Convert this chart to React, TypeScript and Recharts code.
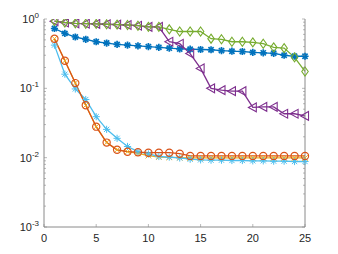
import React from "react";
import { LineChart, Line, XAxis, YAxis } from "recharts";

const iterations = [1, 2, 3, 4, 5, 6, 7, 8, 9, 10, 11, 12, 13, 14, 15, 16, 17, 18, 19, 20, 21, 22, 23, 24, 25];

const blueErr = [0.73, 0.62, 0.55, 0.51, 0.47, 0.45, 0.43, 0.42, 0.41, 0.4, 0.39, 0.38, 0.37, 0.367, 0.363, 0.36, 0.35, 0.343, 0.34, 0.33, 0.325, 0.32, 0.3, 0.29, 0.29];
const orangeErr = [0.52, 0.25, 0.119, 0.057, 0.028, 0.0165, 0.013, 0.0122, 0.012, 0.0118, 0.0118, 0.0118, 0.0114, 0.0106, 0.0106, 0.0106, 0.0106, 0.0106, 0.0106, 0.0106, 0.0106, 0.0106, 0.0106, 0.0106, 0.0106];
const yellowErr = [0.52, 0.25, 0.119, 0.057, 0.028, 0.0165, 0.013, 0.0122, 0.0115, 0.0107, 0.0102, 0.0101, 0.01, 0.0099, 0.0099, 0.0099, 0.0099, 0.0099, 0.0099, 0.0099, 0.0099, 0.0099, 0.0099, 0.0099, 0.0099];
const purpleErr = [0.93, 0.89, 0.865, 0.855, 0.85, 0.84, 0.83, 0.82, 0.8, 0.77, 0.77, 0.47, 0.44, 0.317, 0.194, 0.1, 0.094, 0.091, 0.091, 0.053, 0.054, 0.054, 0.043, 0.043, 0.04];
const greenErr = [0.935, 0.89, 0.865, 0.855, 0.85, 0.84, 0.83, 0.82, 0.8, 0.77, 0.77, 0.71, 0.66, 0.66, 0.66, 0.52, 0.51, 0.47, 0.47, 0.46, 0.44, 0.39, 0.38, 0.28, 0.175];
const cyanErr = [0.42, 0.16, 0.098, 0.069, 0.039, 0.0256, 0.019, 0.0145, 0.0122, 0.0113, 0.0104, 0.0102, 0.0099, 0.0095, 0.0093, 0.0092, 0.0092, 0.0091, 0.0091, 0.009, 0.009, 0.0089, 0.0089, 0.0088, 0.0088];

const xTicks = [0, 5, 10, 15, 20, 25];
const yMajor = [0.001, 0.01, 0.1, 1];
const yTicks = [
  0.001, 0.002, 0.003, 0.004, 0.005, 0.006, 0.007, 0.008, 0.009,
  0.01, 0.02, 0.03, 0.04, 0.05, 0.06, 0.07, 0.08, 0.09,
  0.1, 0.2, 0.3, 0.4, 0.5, 0.6, 0.7, 0.8, 0.9, 1,
];

const data = iterations.map((it, i) => ({
  it,
  blue: blueErr[i],
  orange: orangeErr[i],
  yellow: yellowErr[i],
  purple: purpleErr[i],
  green: greenErr[i],
  cyan: cyanErr[i],
}));

const TOP = 19;
const BOTTOM = 227;
const LEFT = 44;
const RIGHT = 305;
const AXIS = "#8a8a8a";
const TEXT = "#262626";
const FONT = "'Liberation Sans', Arial, sans-serif";

const isMajor = (v: number) => yMajor.some((m) => Math.abs(m - v) < 1e-9);

function LeftTick(props: any) {
  const { y, payload } = props;
  const v = payload.value;
  const major = isMajor(v);
  return (
    <g>
      <line x1={LEFT} x2={LEFT + (major ? 3 : 2)} y1={y} y2={y} stroke={AXIS} strokeWidth={0.6} />
      {major && (
        <text x={LEFT - 5} y={y + 4} textAnchor="end" fill={TEXT} fontSize={11} fontFamily={FONT}>
          <tspan>10</tspan>
          <tspan dy={-5} fontSize={8}>{String(Math.round(Math.log10(v)))}</tspan>
        </text>
      )}
    </g>
  );
}

function RightTick(props: any) {
  const { y, payload } = props;
  const major = isMajor(payload.value);
  return <line x1={RIGHT} x2={RIGHT - (major ? 3 : 2)} y1={y} y2={y} stroke={AXIS} strokeWidth={0.6} />;
}

function BottomTick(props: any) {
  const { x, payload } = props;
  return (
    <g>
      <line x1={x} x2={x} y1={BOTTOM} y2={BOTTOM - 3} stroke={AXIS} strokeWidth={0.6} />
      <text x={x} y={BOTTOM + 15} textAnchor="middle" fill={TEXT} fontSize={11} fontFamily={FONT}>
        {payload.value}
      </text>
    </g>
  );
}

function TopTick(props: any) {
  const { x } = props;
  return <line x1={x} x2={x} y1={TOP} y2={TOP + 3} stroke={AXIS} strokeWidth={0.6} />;
}

const star = (color: string, w: number) => (p: any) => {
  const { cx, cy, index } = p;
  const r = 3.6;
  const d = r * 0.72;
  return (
    <g key={`s${index}`} stroke={color} strokeWidth={w}>
      <line x1={cx - r} x2={cx + r} y1={cy} y2={cy} />
      <line x1={cx} x2={cx} y1={cy - r} y2={cy + r} />
      <line x1={cx - d} x2={cx + d} y1={cy - d} y2={cy + d} />
      <line x1={cx - d} x2={cx + d} y1={cy + d} y2={cy - d} />
    </g>
  );
};

const cross = (color: string) => (p: any) => {
  const { cx, cy, index } = p;
  const r = 2.8;
  return (
    <g key={`x${index}`} stroke={color} strokeWidth={1}>
      <line x1={cx - r} x2={cx + r} y1={cy - r} y2={cy + r} />
      <line x1={cx - r} x2={cx + r} y1={cy + r} y2={cy - r} />
    </g>
  );
};

const circle = (color: string) => (p: any) => (
  <circle key={`c${p.index}`} cx={p.cx} cy={p.cy} r={3.6} fill="none" stroke={color} strokeWidth={1.2} />
);

const diamond = (color: string) => (p: any) => {
  const { cx, cy, index } = p;
  const r = 4.5;
  return (
    <polygon
      key={`d${index}`}
      points={`${cx},${cy - r} ${cx + r * 0.72},${cy} ${cx},${cy + r} ${cx - r * 0.72},${cy}`}
      fill="none"
      stroke={color}
      strokeWidth={1.1}
    />
  );
};

const leftTri = (color: string) => (p: any) => {
  const { cx, cy, index } = p;
  const r = 4.4;
  return (
    <polygon
      key={`t${index}`}
      points={`${cx - r},${cy} ${cx + r * 0.8},${cy - r} ${cx + r * 0.8},${cy + r}`}
      fill="none"
      stroke={color}
      strokeWidth={1.1}
    />
  );
};

export default function App() {
  return (
    <div style={{ position: "absolute", left: 0, top: 0, width: 338, height: 254, background: "#fff" }}>
      <LineChart width={338} height={254} data={data} margin={{ top: TOP, right: 0, bottom: 0, left: 0 }}>
        <XAxis
          xAxisId="b"
          dataKey="it"
          type="number"
          domain={[0, 25]}
          ticks={xTicks}
          height={27}
          stroke={AXIS}
          tickLine={false}
          tick={<BottomTick />}
          interval={0}
        />
        <XAxis
          xAxisId="t"
          orientation="top"
          dataKey="it"
          type="number"
          domain={[0, 25]}
          ticks={xTicks}
          height={0}
          stroke={AXIS}
          tickLine={false}
          tick={<TopTick />}
          interval={0}
        />
        <YAxis
          yAxisId="l"
          scale="log"
          type="number"
          domain={[0.001, 1]}
          allowDataOverflow
          ticks={yTicks}
          width={LEFT}
          stroke={AXIS}
          tickLine={false}
          tick={<LeftTick />}
          interval={0}
        />
        <YAxis
          yAxisId="r"
          orientation="right"
          scale="log"
          type="number"
          domain={[0.001, 1]}
          allowDataOverflow
          ticks={yTicks}
          width={338 - RIGHT}
          stroke={AXIS}
          tickLine={false}
          tick={<RightTick />}
          interval={0}
        />
        <Line xAxisId="b" yAxisId="l" dataKey="blue" stroke="#0072BD" strokeWidth={1.3} dot={star("#0072BD", 1.7)} activeDot={false} isAnimationActive={false} />
        <Line xAxisId="b" yAxisId="l" dataKey="yellow" stroke="#EDB120" strokeWidth={1.3} dot={cross("#EDB120")} activeDot={false} isAnimationActive={false} />
        <Line xAxisId="b" yAxisId="l" dataKey="cyan" stroke="#4DBEEE" strokeWidth={1.3} dot={star("#4DBEEE", 1)} activeDot={false} isAnimationActive={false} />
        <Line xAxisId="b" yAxisId="l" dataKey="orange" stroke="#D95319" strokeWidth={1.3} dot={circle("#D95319")} activeDot={false} isAnimationActive={false} />
        <Line xAxisId="b" yAxisId="l" dataKey="purple" stroke="#7E2F8E" strokeWidth={1.3} dot={leftTri("#7E2F8E")} activeDot={false} isAnimationActive={false} />
        <Line xAxisId="b" yAxisId="l" dataKey="green" stroke="#77AC30" strokeWidth={1.3} dot={diamond("#77AC30")} activeDot={false} isAnimationActive={false} />
      </LineChart>
    </div>
  );
}
